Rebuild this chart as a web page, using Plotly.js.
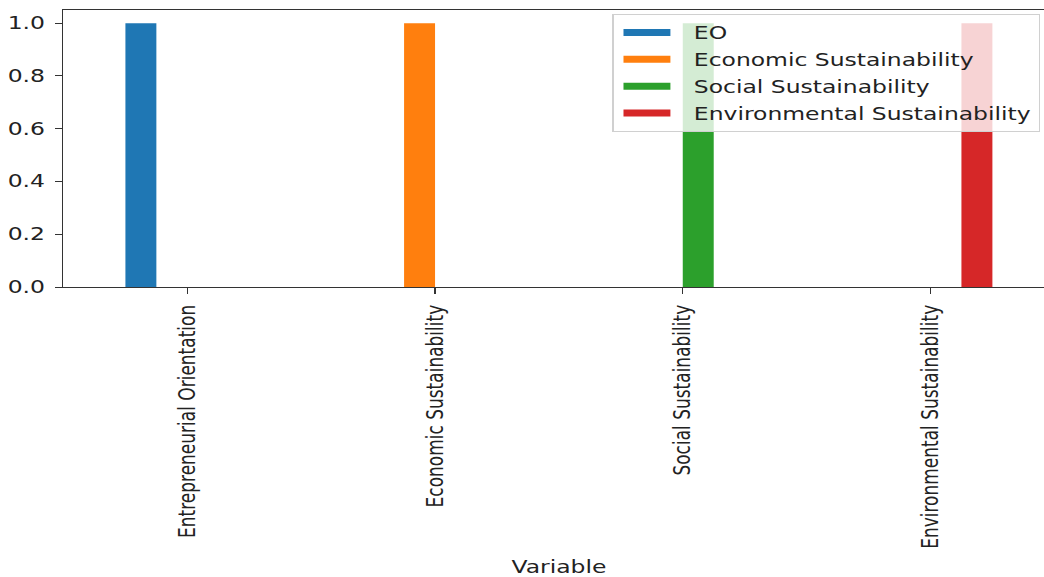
<!DOCTYPE html>
<html>
<head>
<meta charset="utf-8">
<script src="https://cdn.plot.ly/plotly-3.0.1.min.js"></script>
<style>
  html, body { margin: 0; padding: 0; background: #ffffff; width: 1044px; height: 577px; overflow: hidden; }
  #chart { width: 775px; height: 577px; transform: scaleX(1.38); transform-origin: 0 0; }
</style>
</head>
<body>
<div id="chart"></div>
<script>
// Categories on the x axis
const categories = [
  'Entrepreneurial Orientation',
  'Economic Sustainability',
  'Social Sustainability',
  'Environmental Sustainability'
];

// Series names and values (one value per category)
const seriesNames = ['EO', 'Economic Sustainability', 'Social Sustainability', 'Environmental Sustainability'];
const eoValues = [1.0, 0.0, 0.0, 0.0];
const economicValues = [0.0, 1.0, 0.0, 0.0];
const socialValues = [0.0, 0.0, 1.0, 0.0];
const environmentalValues = [0.0, 0.0, 0.0, 1.0];

// Y tick values
const yTicks = [0.0, 0.2, 0.4, 0.6, 0.8, 1.0];

const seriesValues = [eoValues, economicValues, socialValues, environmentalValues];
const colors = ['#1f77b4', '#ff7f0e', '#2ca02c', '#d62728'];
const FONT = 'DejaVu Sans, Verdana, sans-serif';

const traces = [];
seriesValues.forEach(function (vals, i) {
  traces.push({
    type: 'bar',
    x: categories,
    y: vals,
    name: seriesNames[i],
    marker: { color: colors[i], line: { width: 0 } },
    showlegend: false,
    legendgroup: 's' + i
  });
});
// Legend-only entries: short wide colour strips (dash limits the strip length)
seriesNames.forEach(function (name, i) {
  traces.push({
    type: 'scatter',
    mode: 'lines',
    x: [null],
    y: [null],
    name: name,
    legendgroup: 's' + i,
    line: { color: colors[i], width: 7, dash: '34px,30px' },
    showlegend: true
  });
});

const layout = {
  width: 775,
  height: 577,
  margin: { l: 45.65, r: 11.2, t: 10, b: 290, pad: 0 },
  paper_bgcolor: '#ffffff',
  plot_bgcolor: '#ffffff',
  font: { family: FONT, size: 17, color: '#222222' },
  barmode: 'group',
  bargap: 0.5,
  bargroupgap: 0,
  showlegend: true,
  legend: {
    x: 0.9858,
    y: 0.9856,
    xanchor: 'right',
    yanchor: 'top',
    bgcolor: 'rgba(255,255,255,0.8)',
    bordercolor: '#d0d0d0',
    borderwidth: 1,
    font: { family: FONT, size: 17, color: '#222222' },
    itemwidth: 46,
    indentation: 2,
    tracegroupgap: 1.7
  },
  xaxis: {
    type: 'category',
    categoryorder: 'array',
    categoryarray: categories,
    range: [-0.5, 3.5],
    autorange: false,
    showgrid: false,
    zeroline: false,
    showline: true,
    mirror: true,
    linecolor: '#333333',
    linewidth: 1,
    ticks: 'outside',
    ticklen: 6,
    tickwidth: 1,
    tickcolor: '#333333',
    tickangle: -90,
    ticklabelstandoff: 4,
    tickfont: { family: FONT, size: 17, color: '#222222' },
    automargin: false,
    title: { text: 'Variable', font: { family: FONT, size: 17, color: '#222222' }, standoff: 16 }
  },
  yaxis: {
    range: [0, 1.05],
    autorange: false,
    tickvals: yTicks,
    tickformat: '.1f',
    showgrid: false,
    zeroline: false,
    showline: true,
    mirror: true,
    linecolor: '#333333',
    linewidth: 1,
    ticks: 'outside',
    ticklen: 5,
    tickwidth: 1,
    tickcolor: '#333333',
    ticklabelstandoff: 4,
    tickfont: { family: FONT, size: 17, color: '#222222' },
    automargin: false
  }
};

Plotly.newPlot('chart', traces, layout, { displayModeBar: false, staticPlot: true });
</script>
</body>
</html>
